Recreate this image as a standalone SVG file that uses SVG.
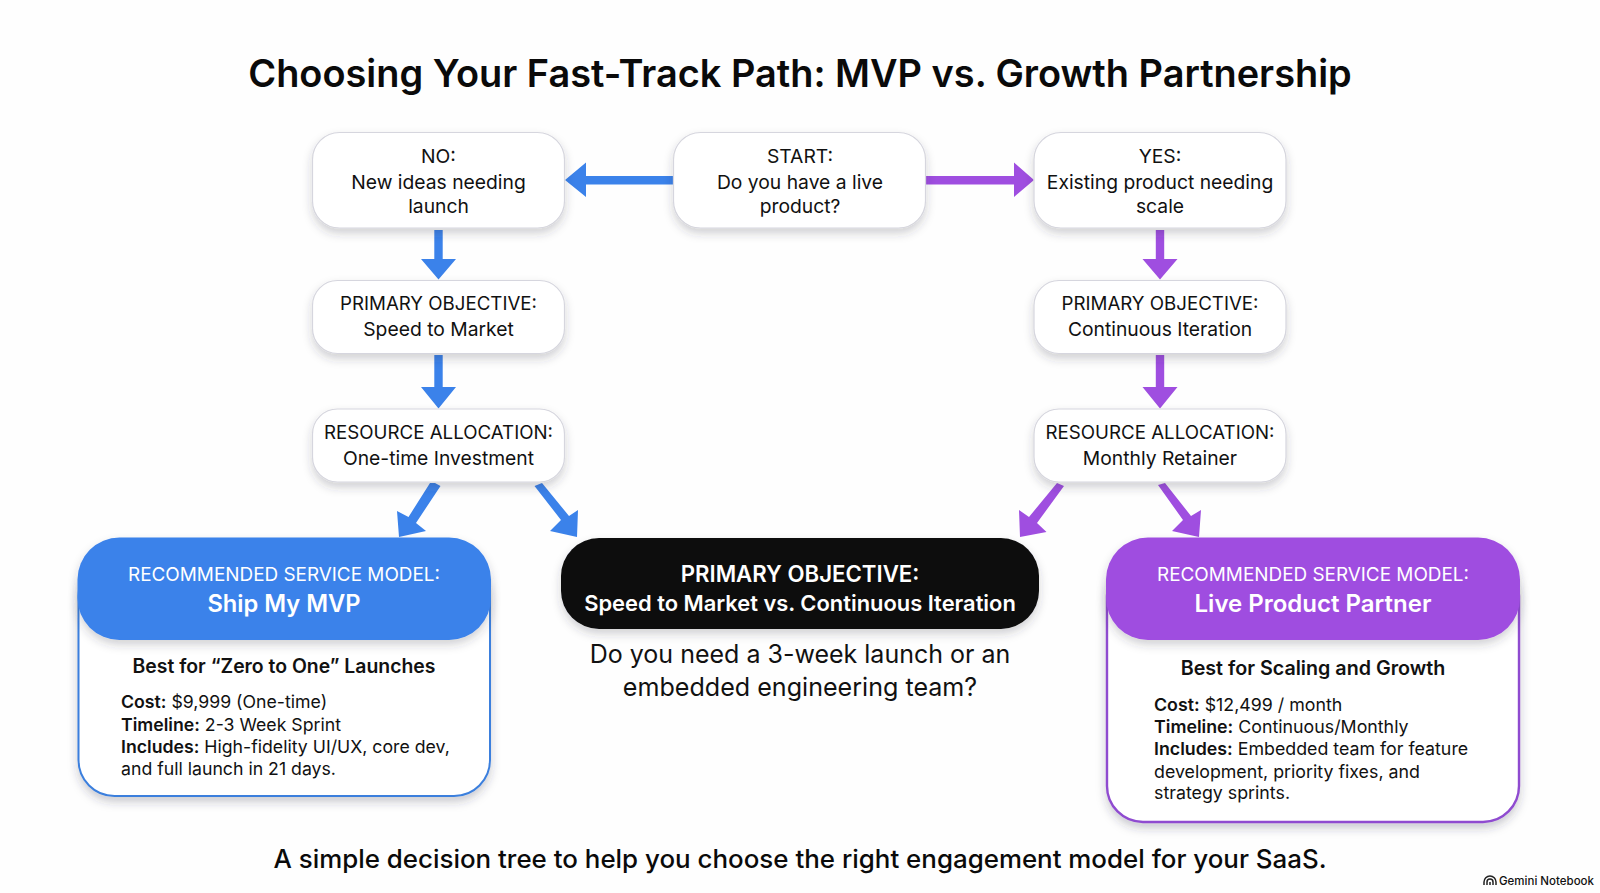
<svg xmlns="http://www.w3.org/2000/svg" width="1600" height="893" viewBox="0 0 1600 893">
<defs>
<filter id="sh" x="-15%" y="-25%" width="130%" height="160%"><feDropShadow dx="0" dy="5" stdDeviation="5" flood-color="#334" flood-opacity="0.22"/></filter>
<filter id="sh2" x="-10%" y="-10%" width="120%" height="125%"><feDropShadow dx="0" dy="5" stdDeviation="5" flood-color="#334" flood-opacity="0.25"/></filter>
</defs>
<style>
text{font-family:Inter,"Liberation Sans",sans-serif;fill:#111;text-anchor:middle}
.box{fill:#fff;stroke:#d6d6de;stroke-width:1.2;filter:url(#sh)}
.t{font-size:19.300px}
.u{font-size:18.700px}
.b{font-weight:600}
.l{text-anchor:start;font-size:17.700px}
.r{font-size:17.800px}
.w{fill:#fff}
.blue{fill:#3b82ea}.purple{fill:#9f4ee0}
</style>
<rect width="1600" height="893" fill="#fefefe"/>
<text id="title" x="800" y="86.500" font-size="37.900" font-weight="600" style="fill:#0a0a0a">Choosing Your Fast-Track Path: MVP vs. Growth Partnership</text>

<g id="connectors">
<path class="blue" d="M673 176V184.500H586V197L565 180L586 162.500V176Z"/>
<path class="purple" d="M926 176V184.500H1014V197L1034 180L1014 162.500V176Z"/>
<path class="blue" d="M434.300 230H442.700V259H456L438.500 279.500L421 259H434.300Z"/>
<path class="blue" d="M434.300 355H442.700V387H456L438.500 408.500L421 387H434.300Z"/>
<path class="purple" d="M1155.800 230H1164.200V259H1177.500L1160 279.500L1142.500 259H1155.800Z"/>
<path class="purple" d="M1155.800 355H1164.200V387H1177.500L1160 408.500L1142.500 387H1155.800Z"/>
<path class="blue" d="M435 483L440.500 486L416 523L426 531L399 537L397 511L408.500 517L430 483Z"/>
<path class="blue" d="M534.500 486L542 483L569 516L578 510L577 537L550 531L561 520Z"/>
<path class="purple" d="M1057 483L1064 486L1037 523L1046.500 532L1020 537L1019 510L1029 517Z"/>
<path class="purple" d="M1158 485L1165 483L1191 516L1201 510L1199 537L1172 531L1183 520Z"/>
</g>

<g id="node-start"><rect class="box" x="673.500" y="132.500" width="252" height="95.500" rx="27"/>
<text class="t" x="800" y="162.500">START:</text><text class="t" x="800" y="188.500">Do you have a live</text><text class="t" x="800" y="213">product?</text></g>
<g id="node-no"><rect class="box" x="312.500" y="132.500" width="252" height="95.500" rx="27"/>
<text class="t" x="438.500" y="162.500">NO:</text><text class="t" x="438.500" y="188.500">New ideas needing</text><text class="t" x="438.500" y="213">launch</text></g>
<g id="node-yes"><rect class="box" x="1034" y="132.500" width="252" height="95.500" rx="27"/>
<text class="t" x="1160" y="162.500">YES:</text><text class="t" x="1160" y="188.500">Existing product needing</text><text class="t" x="1160" y="213">scale</text></g>
<g id="node-obj-left"><rect class="box" x="312.500" y="280.500" width="252" height="73" rx="25"/>
<text class="u" x="438.500" y="310">PRIMARY OBJECTIVE:</text><text class="t" x="438.500" y="336">Speed to Market</text></g>
<g id="node-obj-right"><rect class="box" x="1034" y="280.500" width="252" height="73" rx="25"/>
<text class="u" x="1160" y="310">PRIMARY OBJECTIVE:</text><text class="t" x="1160" y="336">Continuous Iteration</text></g>
<g id="node-res-left"><rect class="box" x="312.500" y="409" width="252" height="73" rx="25"/>
<text class="u" x="438.500" y="438.500">RESOURCE ALLOCATION:</text><text class="t" x="438.500" y="465">One-time Investment</text></g>
<g id="node-res-right"><rect class="box" x="1034" y="409" width="252" height="73" rx="25"/>
<text class="u" x="1160" y="438.500">RESOURCE ALLOCATION:</text><text class="t" x="1160" y="465">Monthly Retainer</text></g>

<g id="node-mvp">
<rect x="78.500" y="560" width="411.500" height="236" rx="36" fill="#fff" stroke="#3b7fdd" stroke-width="2" filter="url(#sh2)"/>
<rect class="blue" x="77.500" y="537.500" width="413.500" height="102.500" rx="42" filter="url(#sh)"/>
<text class="w" x="284" y="581" font-size="18.900">RECOMMENDED SERVICE MODEL:</text>
<text class="w b" x="284" y="611.500" font-size="23.700">Ship My MVP</text>
<text class="b" x="284" y="672.500" font-size="19.400">Best for “Zero to One” Launches</text>
<text class="l" x="121" y="708"><tspan class="b">Cost:</tspan> $9,999 (One-time)</text>
<text class="l" x="121" y="730.500"><tspan class="b">Timeline:</tspan> 2-3 Week Sprint</text>
<text class="l" x="121" y="753"><tspan class="b">Includes:</tspan> High-fidelity UI/UX, core dev,</text>
<text class="l" x="121" y="775">and full launch in 21 days.</text>
</g>

<g id="node-objective"><rect x="561" y="538" width="478" height="91" rx="38" fill="#0d0d0f" filter="url(#sh)"/>
<text class="w b" x="800" y="581.500" font-size="22.200">PRIMARY OBJECTIVE:</text>
<text class="w b" x="800" y="610.500" font-size="21.900">Speed to Market vs. Continuous Iteration</text>
<text x="800" y="663" font-size="25">Do you need a 3-week launch or an</text>
<text x="800" y="696" font-size="25.100">embedded engineering team?</text></g>

<g id="node-partner">
<rect x="1107" y="560" width="412" height="262" rx="36" fill="#fff" stroke="#8f4bd0" stroke-width="2.400" filter="url(#sh2)"/>
<rect class="purple" x="1106" y="537.500" width="414" height="102.500" rx="42" filter="url(#sh)"/>
<text class="w" x="1313" y="581" font-size="18.900">RECOMMENDED SERVICE MODEL:</text>
<text class="w b" x="1313" y="611.500" font-size="24">Live Product Partner</text>
<text class="b" x="1313" y="675" font-size="19.700">Best for Scaling and Growth</text>
<text class="l r" x="1154" y="711"><tspan class="b">Cost:</tspan> $12,499 / month</text>
<text class="l r" x="1154" y="733"><tspan class="b">Timeline:</tspan> Continuous/Monthly</text>
<text class="l r" x="1154" y="755"><tspan class="b">Includes:</tspan> Embedded team for feature</text>
<text class="l r" x="1154" y="777.500">development, priority fixes, and</text>
<text class="l r" x="1154" y="799">strategy sprints.</text>
</g>

<text id="subtitle" x="800" y="867.500" font-size="25.900" font-weight="500" style="fill:#0a0a0a">A simple decision tree to help you choose the right engagement model for your SaaS.</text>
<g id="watermark"><path d="M1484 885v-3a6 6 0 0 1 12 0v3M1487 885v-3a3 3 0 0 1 6 0v3M1490 885v-3" fill="none" stroke="#222" stroke-width="1.500"/>
<text x="1499" y="885" font-size="11.500" font-weight="500" style="text-anchor:start">Gemini Notebook</text></g>
</svg>
